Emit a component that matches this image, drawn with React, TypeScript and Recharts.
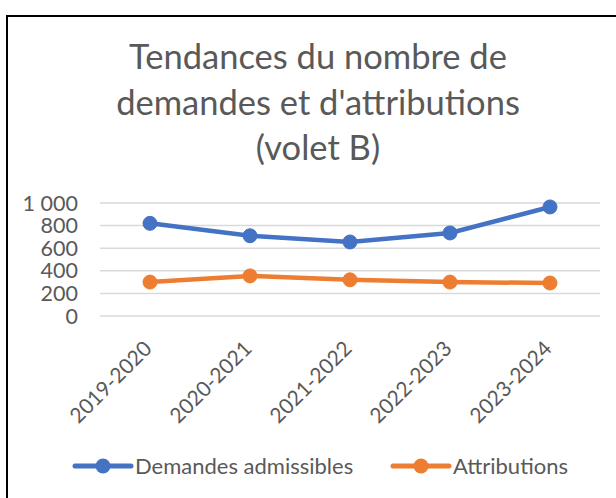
import React from "react";
import { LineChart, Line, XAxis, YAxis, CartesianGrid } from "recharts";

const years = ["2019-2020", "2020-2021", "2021-2022", "2022-2023", "2023-2024"];
const demandes = [820, 710, 655, 735, 965];
const attributions = [300, 355, 320, 300, 292];
const yTicks = [0, 200, 400, 600, 800, 1000];
const titleLines = ["Tendances du nombre de", "demandes et d'attributions", "(volet B)"];

const BLUE = "#4472C4";
const ORANGE = "#ED7D31";
const GREY = "#595959";
const FONT = "Lato, 'Noto Sans', sans-serif";

const data = years.map((year, i) => ({
  year,
  demandes: demandes[i],
  attributions: attributions[i],
}));

const fmt = (v: number) => String(v).replace(/\B(?=(\d{3})+(?!\d))/g, " ");

// rotated category labels, end of text sits just under/right of the point
const XTick = ({ x, y, payload }: any) => {
  const ax = x + 3;
  const ay = y + 34;
  return (
    <text
      x={ax}
      y={ay}
      transform={`rotate(-45, ${ax}, ${ay})`}
      textAnchor="end"
      fill={GREY}
      fontSize={21}
      fontFamily={FONT}
    >
      {payload.value}
    </text>
  );
};

const legendItems = [
  { label: "Demandes admissibles", color: BLUE, x: 75 },
  { label: "Attributions", color: ORANGE, x: 393 },
];

export default function App() {
  return (
    <div
      style={{
        position: "absolute",
        left: 0,
        top: 0,
        width: 616,
        height: 498,
        overflow: "hidden",
        background: "#fff",
        fontFamily: FONT,
      }}
    >
      {/* frame */}
      <div
        style={{
          position: "absolute",
          left: 6,
          top: 15,
          width: 700,
          height: 600,
          borderLeft: "2px solid #000",
          borderTop: "2px solid #000",
        }}
      />

      {/* title */}
      <div
        style={{
          position: "absolute",
          left: 18,
          top: 33,
          width: 600,
          textAlign: "center",
          fontSize: 34.5,
          lineHeight: "45.5px",
          color: GREY,
        }}
      >
        {titleLines.map((t) => (
          <div key={t}>{t}</div>
        ))}
      </div>

      <div style={{ position: "absolute", left: 0, top: 0 }}>
        <LineChart
          width={616}
          height={498}
          data={data}
          margin={{ top: 203, right: 16, bottom: 0, left: 0 }}
        >
          <CartesianGrid vertical={false} stroke="#d9d9d9" strokeWidth={1.5} />
          <XAxis
            dataKey="year"
            height={182}
            axisLine={false}
            tickLine={false}
            tickSize={0}
            tickMargin={0}
            padding={{ left: 50, right: 50 }}
            interval={0}
            tick={<XTick />}
          />
          <YAxis
            width={100}
            domain={[0, 1000]}
            ticks={yTicks}
            interval={0}
            tickFormatter={fmt}
            axisLine={false}
            tickLine={false}
            tickSize={0}
            tickMargin={22}
            tick={{ fill: GREY, fontSize: 21.5, fontFamily: FONT }}
          />
          <Line
            type="linear"
            dataKey="demandes"
            stroke={BLUE}
            strokeWidth={4.5}
            dot={{ r: 7, fill: BLUE, stroke: BLUE, strokeWidth: 1 }}
            activeDot={false}
            isAnimationActive={false}
          />
          <Line
            type="linear"
            dataKey="attributions"
            stroke={ORANGE}
            strokeWidth={4.5}
            dot={{ r: 7, fill: ORANGE, stroke: ORANGE, strokeWidth: 1 }}
            activeDot={false}
            isAnimationActive={false}
          />
        </LineChart>
      </div>

      {/* legend */}
      <svg
        width={616}
        height={498}
        style={{ position: "absolute", left: 0, top: 0, pointerEvents: "none" }}
      >
        {legendItems.map((it) => (
          <g key={it.label}>
            <line
              x1={it.x}
              y1={466}
              x2={it.x + 56}
              y2={466}
              stroke={it.color}
              strokeWidth={5}
              strokeLinecap="round"
            />
            <circle cx={it.x + 28} cy={466} r={7.5} fill={it.color} />
            <text
              x={it.x + 60}
              y={473.5}
              fill={GREY}
              fontSize={22}
              fontFamily={FONT}
            >
              {it.label}
            </text>
          </g>
        ))}
      </svg>
    </div>
  );
}
